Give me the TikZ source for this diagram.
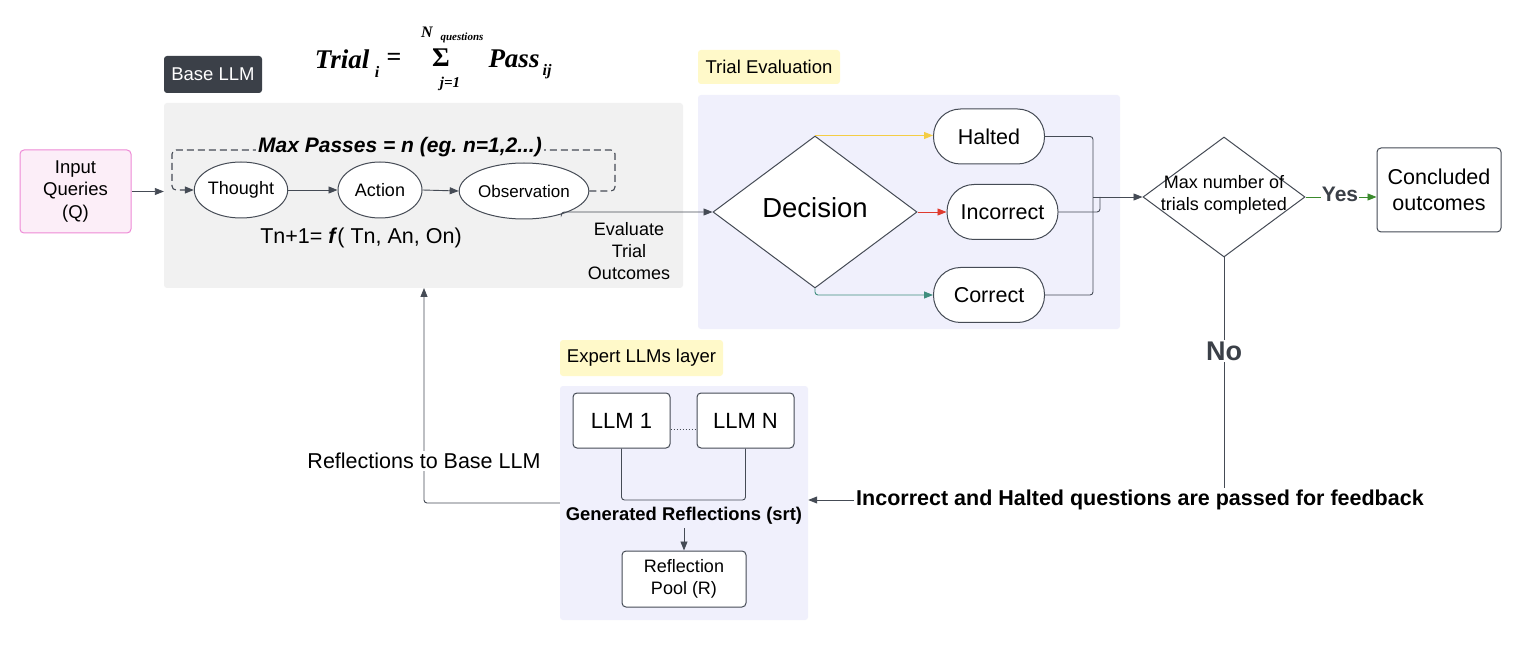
\documentclass[tikz,border=0pt]{standalone}
\usepackage{fontspec}
\setmainfont{Liberation Sans}
\newfontfamily\serifbi{Liberation Serif}
\usetikzlibrary{shapes.geometric,arrows.meta,calc}
\definecolor{ln}{HTML}{454B55}
\definecolor{graypanel}{HTML}{F1F1F1}
\definecolor{lavpanel}{HTML}{F0F0FC}
\definecolor{yellab}{HTML}{FFF9C9}
\definecolor{darklab}{HTML}{3B4048}
\definecolor{pinkfill}{HTML}{FCEEF8}
\definecolor{pinkline}{HTML}{EE8AD6}
\definecolor{yelarr}{HTML}{F4CD45}
\definecolor{redarr}{HTML}{DF3A2E}
\definecolor{tealarr}{HTML}{3F8E7E}
\definecolor{greenarr}{HTML}{3A8A2C}
\newcommand{\fs}[1]{\fontsize{#1pt}{1.2\dimexpr#1pt\relax}\selectfont}
\frenchspacing
\begin{document}
\begin{tikzpicture}[x=1pt,y=-1pt,
  conn/.style={draw=ln, line width=0.9pt},
  arr/.style={conn, -{Triangle[length=9pt,width=7pt]}},
  panel/.style={rectangle, rounded corners=3pt, inner sep=0pt},
  ell/.style={ellipse, draw=ln, line width=1pt, fill=white, inner sep=0pt, font=\fs{18}},
  stadium/.style={rectangle, draw=ln, line width=1pt, fill=white, rounded corners=27pt, minimum width=111pt, minimum height=55pt, inner sep=0pt, font=\fs{21.5}},
  boxn/.style={rectangle, draw=ln, line width=1pt, fill=white, rounded corners=4pt, inner sep=0pt, align=center},
  lab/.style={rectangle, rounded corners=3pt, inner sep=0pt, font=\fs{18.5}},
]
\useasboundingbox (0,0) rectangle (1534,652);
\fill[white] (0,0) rectangle (1534,652);

% panels
\node[panel, fill=graypanel, minimum width=519pt, minimum height=185pt] (base) at (423.5,195.5) {};
\node[panel, fill=lavpanel, minimum width=422pt, minimum height=234pt] (teval) at (909,212) {};
\node[panel, fill=lavpanel, minimum width=248pt, minimum height=234pt] (exp) at (684,503) {};

% labels
\node[lab, fill=darklab, text=white, minimum width=98pt, minimum height=37pt] (baselab) at (213,74.5) {Base LLM};
\node[lab, fill=yellab, minimum width=142pt, minimum height=34pt] (tevallab) at (769,67) {Trial Evaluation};
\node[lab, fill=yellab, minimum width=163pt, minimum height=36pt] (explab) at (641.5,358) {Expert LLMs layer};

% formula
\node[font=\serifbi\bfseries\itshape\fs{27}] (ftrial) at (342,59) {Trial};
\node[font=\serifbi\bfseries\itshape\fs{16}] (fi) at (377,72) {i};
\node[font=\serifbi\bfseries\fs{26}] (feq) at (394,59) {=};
\node[font=\serifbi\bfseries\fs{27}] (fsig) at (441,58) {Σ};
\node[font=\serifbi\bfseries\itshape\fs{16}] (fN) at (427,32) {N};
\node[font=\serifbi\bfseries\itshape\fs{11}] (fq) at (462,38) {questions};
\node[font=\serifbi\bfseries\itshape\fs{15}] (fj) at (450,84) {j=1};
\node[font=\serifbi\bfseries\itshape\fs{27}] (fpass) at (514,59) {Pass};
\node[font=\serifbi\bfseries\itshape\fs{16}] (fij) at (547,72) {ij};

% input
\node[boxn, draw=pinkline, fill=pinkfill, minimum width=111pt, minimum height=83pt, font=\fs{18.5}, align=center] (inp) at (75.5,191.5) {Input\\Queries\\(Q)};

% ellipses
\node[ell, minimum width=83pt, minimum height=56pt] (thought) at (241,190) {Thought};
\node[ell, minimum width=84pt, minimum height=56pt] (action) at (380,190) {Action};
\node[ell, minimum width=96pt, minimum height=56pt, font=\fs{17}] (obs) at (524,191) {Observation};

\draw[arr] (inp.east) -- (inp.east -| base.west);
\draw[arr] (thought.east) -- (action.west);
\draw[arr] (action.east) -- (obs.west);
\draw[arr, line width=1.1pt, dash pattern=on 7pt off 4pt, rounded corners=4pt] (obs.east) -- (615,191) -- (615,150) -- (172,150) -- (172,190) -- (thought.west);
\node[fill=graypanel, inner sep=2pt, font=\bfseries\itshape\fs{21}] (maxp) at (400,147) {Max Passes = n (eg. n=1,2...)};
\node[font=\fs{21.5}] (tn) at (361,238) {Tn+1= \textbf{\textit{f}}( Tn, An, On)};

% decision
\node[diamond, draw=ln, line width=1pt, fill=white, minimum width=204pt, minimum height=152pt, inner sep=0pt] (dec) at (815,212) {};
\node[font=\fs{27.5}] at (815,208) {Decision};
\draw[arr, rounded corners=3pt] (obs.-32) |- (dec.west);
\node[font=\fs{18}, align=center] (evl) at (629,251) {Evaluate\\Trial\\Outcomes};

\node[stadium] (halt) at (989,136.5) {Halted};
\node[stadium] (inc) at (1002.5,212) {Incorrect};
\node[stadium] (cor) at (989,295) {Correct};

\draw[arr, draw=yelarr, -{Triangle[length=9pt,width=7pt,fill=yelarr]}] (dec.north) -- (dec.north -| halt.west);
\draw[arr, draw=redarr, -{Triangle[length=9pt,width=7pt,fill=redarr]}] (dec.east) -- (inc.west);
\draw[arr, draw=tealarr, -{Triangle[length=9pt,width=7pt,fill=tealarr]}, rounded corners=3pt] (dec.south) |- (cor.west);

% max diamond
\node[diamond, draw=ln, line width=1pt, fill=white, minimum width=162pt, minimum height=120pt, inner sep=0pt] (maxd) at (1224,197) {};
\node[font=\fs{18}, align=center] at (1224,195) {Max number of\\trials completed};

\coordinate (cx) at (1093,197);
\draw[conn, rounded corners=3pt] (halt.east) -| (cx) |- (cor.east);
\draw[conn, rounded corners=3pt] (inc.east) -| (1100,201) -- (1100,197);
\draw[arr] (cx) -- (maxd.west);

% concluded
\node[boxn, minimum width=124pt, minimum height=84pt, font=\fs{21.5}] (conc) at (1439,190) {Concluded\\outcomes};
\node[font=\bfseries\fs{21}, text=darklab, inner sep=1pt] (yes) at (1340,194) {Yes};
\draw[conn, draw=greenarr] (maxd.east) -- (maxd.east -| yes.west);
\draw[arr, draw=greenarr, -{Triangle[length=9pt,width=7pt,fill=greenarr]}] (yes.east |- maxd.east) -- (maxd.east -| conc.west);

% No / feedback
\node[font=\bfseries\fs{21.5}, fill=white, inner sep=2pt] (fb) at (1140,500) {Incorrect and Halted questions are passed for feedback};
\draw[conn] (maxd.south) -- (maxd.south |- fb.north);
\node[font=\bfseries\fs{27}, fill=white, text=darklab, inner sep=2pt] (no) at (1224,351) {No};
\draw[arr] (fb.west) -- (fb.west -| exp.east);

% expert layer
\node[boxn, minimum width=97pt, minimum height=55pt, font=\fs{22}] (llm1) at (621.5,420.5) {LLM 1};
\node[boxn, minimum width=97pt, minimum height=55pt, font=\fs{22}] (llmn) at (745.5,420.5) {LLM N};
\draw[ln, line width=1pt, dotted] ($(llm1.east)+(0,9)$) -- ($(llmn.west)+(0,9)$);
\coordinate (join) at (684,500);
\draw[conn, rounded corners=3pt] (llm1.south) |- (join) -| (llmn.south);
\node[font=\bfseries\fs{18.4}] (gen) at (684,516) {Generated Reflections (srt)};
\node[boxn, minimum width=124pt, minimum height=56pt, font=\fs{18}] (pool) at (684,579) {Reflection\\Pool (R)};
\draw[arr] (join) ++(0,28) -- (pool.north);

% reflections back
\coordinate (rb) at (424,288);
\draw[arr, rounded corners=3pt] (exp.west) -| (rb);
\node[font=\fs{21.5}, fill=white, inner sep=2pt] (refl) at (424,461) {Reflections to Base LLM};
\end{tikzpicture}
\end{document}
